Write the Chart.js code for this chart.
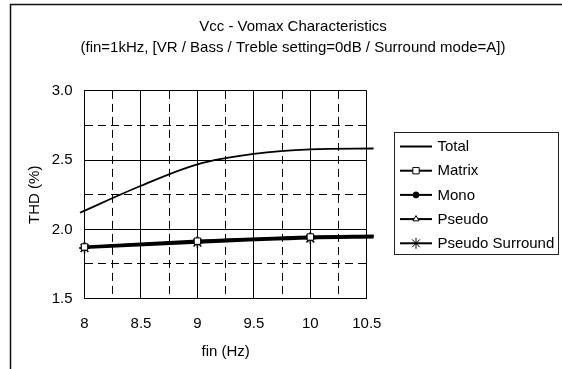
<!DOCTYPE html>
<html>
<head>
<meta charset="utf-8">
<script src="https://cdn.jsdelivr.net/npm/chart.js@4.4.0/dist/chart.umd.min.js"></script>
<style>
  html, body { margin: 0; padding: 0; background: #fff; }
  #wrap { width: 562px; height: 369px; }
</style>
</head>
<body>
<div id="wrap"><canvas id="thdGraph" width="562" height="369"></canvas></div>
<script>
'use strict'

// データ
const seriesNames = ['Total', 'Matrix', 'Mono', 'Pseudo', 'Pseudo Surround'];
const totalFin = [7.96, 8.5, 9, 9.5, 10, 10.56];
const totalThd = [2.12, 2.315, 2.47, 2.545, 2.578, 2.584];
const modeFin = [8, 9, 10, 10.56];
const matrixThd = [1.873, 1.915, 1.945, 1.952];
const monoThd = [1.871, 1.912, 1.942, 1.949];
const pseudoThd = [1.877, 1.919, 1.949, 1.956];
const pseudoSurroundThd = [1.865, 1.904, 1.934, 1.941];
const titleLines = ['Vcc - Vomax Characteristics', '(fin=1kHz, [VR / Bass / Treble setting=0dB / Surround mode=A])'];

const FONT = "'Liberation Sans', Arial, sans-serif";
Chart.defaults.font.family = FONT;
Chart.defaults.font.size = 15;
Chart.defaults.color = '#000';

const toXY = (xs, ys) => xs.map((x, i) => ({x: x, y: ys[i]}));
const isMajor = (v) => Math.abs(v * 2 - Math.round(v * 2)) < 1e-6;
// 最後の点(枠の外)はマーカーなし
const markerRadius = (r) => (ctx) => ctx.dataIndex === modeFin.length - 1 ? 0 : r;

const legendStyles = [
  {pointStyle: false, radius: 0, fill: '#000'},
  {pointStyle: 'rect', radius: 4.5, fill: '#fff'},
  {pointStyle: 'circle', radius: 3, fill: '#000'},
  {pointStyle: 'triangle', radius: 3.5, fill: '#fff'},
  {pointStyle: 'star', radius: 5.5, fill: '#fff'},
];

// 外枠
const framePlugin = {
  id: 'frame',
  beforeDraw(chart) {
    const c = chart.ctx;
    c.save();
    c.strokeStyle = '#111';
    c.lineWidth = 1.5;
    c.beginPath();
    c.moveTo(10.5, 369);
    c.lineTo(10.5, 4.5);
    c.lineTo(562, 4.5);
    c.stroke();
    c.restore();
  }
};

// 凡例（線＋マーカー）
const boxLegendPlugin = {
  id: 'boxLegend',
  afterDraw(chart) {
    const c = chart.ctx;
    c.save();
    c.strokeStyle = '#222';
    c.lineWidth = 1;
    c.strokeRect(394.5, 132.5, 164, 122);
    chart.data.datasets.forEach((ds, i) => {
      const y = 146.5 + i * 24.2;
      c.strokeStyle = '#000';
      c.lineWidth = 2;
      c.beginPath();
      c.moveTo(400, y);
      c.lineTo(432, y);
      c.stroke();
      const st = legendStyles[i];
      if (st.pointStyle) {
        c.fillStyle = st.fill;
        c.strokeStyle = '#000';
        c.lineWidth = 1;
        Chart.helpers.drawPoint(c, {pointStyle: st.pointStyle, radius: st.radius, rotation: 0, borderWidth: 1}, 416, y);
      }
      c.fillStyle = '#000';
      c.font = '15px ' + FONT;
      c.textAlign = 'left';
      c.textBaseline = 'middle';
      c.fillText(ds.label, 437.5, y + 0.5);
    });
    c.restore();
  }
};

const ctx = document.getElementById('thdGraph');
const myChart = new Chart(ctx, {
  type: 'line',
  data: {
    datasets: [
      {
        label: seriesNames[0],
        data: toXY(totalFin, totalThd),
        borderColor: '#000',
        borderWidth: 1.8,
        pointRadius: 0,
        cubicInterpolationMode: 'monotone',
        clip: false,
      },
      {
        label: seriesNames[1],
        data: toXY(modeFin, matrixThd),
        borderColor: '#000',
        borderWidth: 2,
        pointStyle: 'rect',
        pointRadius: markerRadius(4.5),
        pointBackgroundColor: '#fff',
        pointBorderColor: '#000',
        pointBorderWidth: 1,
        cubicInterpolationMode: 'monotone',
        clip: false,
      },
      {
        label: seriesNames[2],
        data: toXY(modeFin, monoThd),
        borderColor: '#000',
        borderWidth: 2,
        pointStyle: 'circle',
        pointRadius: markerRadius(3.5),
        pointBackgroundColor: '#000',
        pointBorderColor: '#000',
        pointBorderWidth: 1,
        cubicInterpolationMode: 'monotone',
        clip: false,
      },
      {
        label: seriesNames[3],
        data: toXY(modeFin, pseudoThd),
        borderColor: '#000',
        borderWidth: 2,
        pointStyle: 'triangle',
        pointRadius: markerRadius(4.5),
        pointBackgroundColor: '#fff',
        pointBorderColor: '#000',
        pointBorderWidth: 1,
        cubicInterpolationMode: 'monotone',
        clip: false,
      },
      {
        label: seriesNames[4],
        data: toXY(modeFin, pseudoSurroundThd),
        borderColor: '#000',
        borderWidth: 2,
        pointStyle: 'star',
        pointRadius: markerRadius(5.5),
        pointBackgroundColor: '#fff',
        pointBorderColor: '#000',
        pointBorderWidth: 1.5,
        cubicInterpolationMode: 'monotone',
        clip: false,
      },
    ]
  },
  options: {
    responsive: false,
    animation: false,
    devicePixelRatio: 1,
    layout: {
      padding: {left: 24, right: 0, top: 0, bottom: 0}
    },
    scales: {
      x: {
        type: 'linear',
        position: 'bottom',
        min: 8,
        max: 10.5,
        afterFit: (s) => { s.height = 70.4; },
        ticks: {
          stepSize: 0.5,
          padding: 16,
          callback: function(value) {
            return String(value);
          }
        },
        grid: {color: '#000', lineWidth: 1, drawTicks: false},
        border: {display: true, color: '#000', width: 1},
        title: {display: true, text: 'fin (Hz)', padding: {top: 0, bottom: 8.3}},
      },
      xMinor: {
        type: 'linear',
        position: 'bottom',
        min: 8,
        max: 10.5,
        afterFit: (s) => { s.height = 0; },
        ticks: {display: false, stepSize: 0.25},
        grid: {
          drawTicks: false,
          lineWidth: 1,
          color: (c) => isMajor(c.tick.value) ? 'rgba(0,0,0,0)' : '#000',
        },
        border: {display: false, dash: [8, 5]},
      },
      y: {
        type: 'linear',
        position: 'left',
        min: 1.5,
        max: 3.0,
        afterFit: (s) => { s.width = 60.5; },
        ticks: {
          stepSize: 0.5,
          padding: 12,
          callback: function(value) {
            return value.toFixed(1);
          }
        },
        grid: {color: '#000', lineWidth: 1, drawTicks: false},
        border: {display: true, color: '#000', width: 1},
        title: {display: true, text: 'THD (%)', padding: {top: 2, bottom: 0}},
      },
      yMinor: {
        type: 'linear',
        position: 'left',
        min: 1.5,
        max: 3.0,
        afterFit: (s) => { s.width = 0; },
        ticks: {display: false, stepSize: 0.25},
        grid: {
          drawTicks: false,
          lineWidth: 1,
          color: (c) => isMajor(c.tick.value) ? 'rgba(0,0,0,0)' : '#000',
        },
        border: {display: false, dash: [8, 5]},
      },
      // 凡例用のスペース
      legendSpace: {
        type: 'linear',
        position: 'right',
        afterFit: (s) => { s.width = 195.2; },
        ticks: {display: false},
        grid: {display: false, drawTicks: false},
        border: {display: false},
      },
    },
    plugins: {
      legend: {display: false},
      tooltip: {enabled: false},
      title: {
        display: true,
        text: titleLines,
        color: '#000',
        font: {size: 15, weight: 'normal', lineHeight: 1.35},
        padding: {top: 17, bottom: 33.4},
      },
    },
  },
  plugins: [framePlugin, boxLegendPlugin],
});
</script>
</body>
</html>
